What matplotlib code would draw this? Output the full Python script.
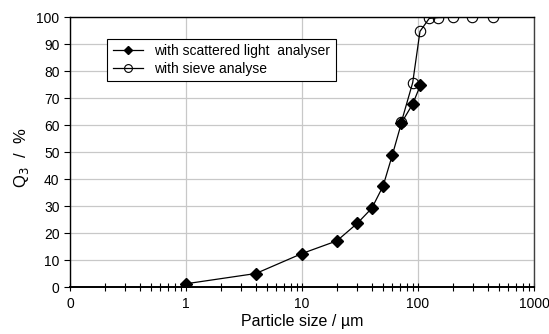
import matplotlib
matplotlib.use("Agg")
from matplotlib import pyplot as plt
from matplotlib.ticker import FixedLocator, LogLocator, NullFormatter

plt.rcParams["font.family"] = ["Liberation Sans", "DejaVu Sans"]

# scattered light analyser
laser_size = [1, 4, 10, 20, 30, 40, 50, 60, 72, 90, 105]
laser_q3 = [1.2, 5.0, 12.4, 17.1, 23.6, 29.2, 37.4, 48.8, 60.8, 67.8, 74.8]

# sieve analysis
sieve_size = [72, 90, 104, 125, 150, 200, 290, 440]
sieve_q3 = [61.2, 75.7, 94.7, 99.5, 99.8, 99.9, 100, 100]

x_ticks = [0.1, 1, 10, 100, 1000]
x_labels = ["0", "1", "10", "100", "1000"]
y_ticks = list(range(0, 101, 10))

fig = plt.figure(figsize=(5.49, 3.34), dpi=100)
ax = fig.add_axes([0.1275, 0.1407, 0.8452, 0.8083])

ax.plot(laser_size, laser_q3, color="black", lw=0.9, marker="D",
        markersize=6, markerfacecolor="black", markeredgecolor="black",
        label="with scattered light  analyser", zorder=3)
ax.plot(sieve_size, sieve_q3, color="black", lw=0.9, marker="o",
        markersize=7.5, markerfacecolor="none", markeredgecolor="black",
        markeredgewidth=0.8, label="with sieve analyse", zorder=3)

ax.set_xscale("log")
ax.set_xlim(0.1, 1000)
ax.set_ylim(0, 100)
ax.xaxis.set_major_locator(FixedLocator(x_ticks))
ax.set_xticklabels(x_labels)
ax.xaxis.set_minor_locator(LogLocator(base=10, subs=range(2, 10)))
ax.xaxis.set_minor_formatter(NullFormatter())
ax.set_yticks(y_ticks)

ax.grid(True, which="major", color="#c8c8c8", lw=0.9)
ax.set_axisbelow(True)

ax.tick_params(axis="x", which="both", direction="inout", length=6,
               width=0.8, labelsize=10, pad=4)
ax.tick_params(axis="y", direction="out", length=4, width=0.8, labelsize=10)

for side in ["left", "top", "right"]:
    ax.spines[side].set_linewidth(1.0)
    ax.spines[side].set_color("black")
ax.spines["bottom"].set_linewidth(1.4)
ax.spines["right"].set_color("#404040")

ax.set_xlabel("Particle size / \u00b5m", fontsize=11.5, labelpad=2)
ax.set_ylabel("Q$_3$  /  %", fontsize=12)
ax.yaxis.set_label_coords(-0.085, 0.48)

leg = ax.legend(loc="upper left", bbox_to_anchor=(0.08, 0.92),
                borderaxespad=0, fancybox=False, framealpha=1,
                edgecolor="black", fontsize=10, handlelength=2.2,
                markerscale=0.75, borderpad=0.4, labelspacing=0.25)
leg.get_frame().set_linewidth(0.8)

plt.savefig("out.png", dpi=100)
plt.close()
